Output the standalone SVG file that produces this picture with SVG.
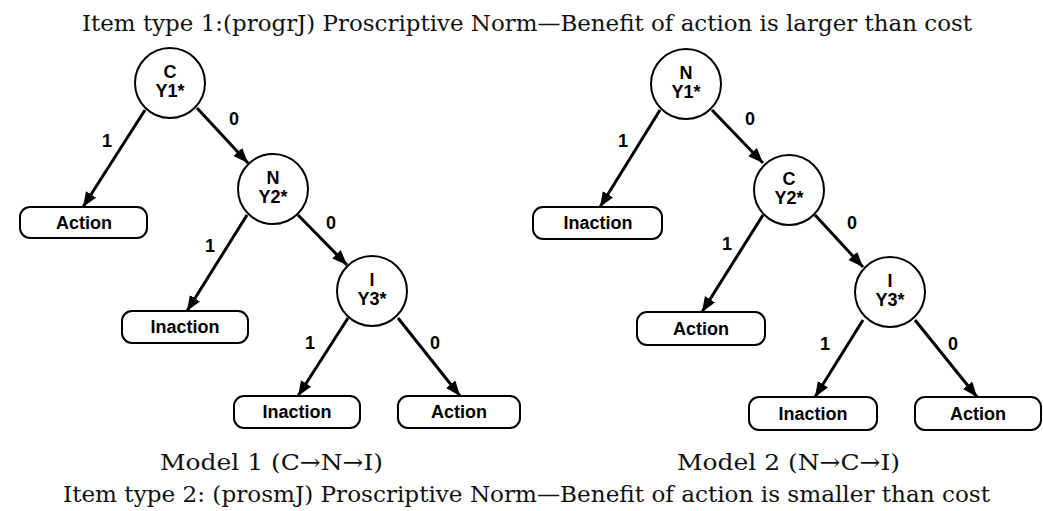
<svg xmlns="http://www.w3.org/2000/svg" width="1043" height="511" viewBox="0 0 1043 511">
<style>
.title{font-family:"DejaVu Serif","Liberation Serif",serif;font-size:23px;fill:#111}
.cap{font-family:"DejaVu Serif","Liberation Serif",serif;font-size:23px;fill:#111}
.node circle{fill:#fff;stroke:#000;stroke-width:2}
.node rect{fill:#fff;stroke:#000;stroke-width:2}
.node text{font-family:"Liberation Sans",Arial,sans-serif;font-weight:bold;font-size:18px;text-anchor:middle;fill:#000}
.edges line{stroke:#000;stroke-width:3;marker-end:url(#ah)}
.lbl{font-family:"Liberation Sans",Arial,sans-serif;font-weight:bold;font-size:18px;text-anchor:middle;fill:#000}
</style>
<defs>
<marker id="ah" markerUnits="userSpaceOnUse" markerWidth="16" markerHeight="14" refX="15" refY="6" orient="auto">
<path d="M0,0 L15,6 L0,12 Z" fill="#000"/>
</marker>
</defs>
<rect width="1043" height="511" fill="#fff"/>
<text class="title" x="82" y="31" textLength="890" lengthAdjust="spacingAndGlyphs">Item type 1:(progrJ) Proscriptive Norm—Benefit of action is larger than cost</text>

<g class="edges">
<line x1="145" y1="110" x2="83" y2="207"/>
<line x1="197" y1="108" x2="248" y2="163"/>
<line x1="247" y1="215" x2="187" y2="311"/>
<line x1="298" y1="215" x2="347" y2="265"/>
<line x1="348" y1="318" x2="298" y2="396"/>
<line x1="398" y1="318" x2="460" y2="396"/>
<line x1="660" y1="110" x2="600" y2="207"/>
<line x1="712" y1="110" x2="763" y2="163"/>
<line x1="763" y1="215" x2="702" y2="312"/>
<line x1="815" y1="215" x2="863" y2="267"/>
<line x1="863" y1="320" x2="815" y2="397"/>
<line x1="915" y1="320" x2="977" y2="397"/>
</g>
<g id="edge-labels">
<text class="lbl" x="107" y="147">1</text>
<text class="lbl" x="234" y="125">0</text>
<text class="lbl" x="210" y="252">1</text>
<text class="lbl" x="331" y="229">0</text>
<text class="lbl" x="310" y="349">1</text>
<text class="lbl" x="435" y="349">0</text>
<text class="lbl" x="623" y="147">1</text>
<text class="lbl" x="750" y="125">0</text>
<text class="lbl" x="727" y="250">1</text>
<text class="lbl" x="852" y="229">0</text>
<text class="lbl" x="825" y="350">1</text>
<text class="lbl" x="953" y="350">0</text>
</g>

<g id="m1-c" class="node"><circle cx="170" cy="83" r="35"/><text x="170" y="78">C</text><text x="170" y="97">Y1*</text></g>
<g id="m1-n" class="node"><circle cx="273" cy="189" r="35"/><text x="273" y="184">N</text><text x="273" y="203">Y2*</text></g>
<g id="m1-i" class="node"><circle cx="372" cy="291" r="35"/><text x="372" y="286">I</text><text x="372" y="305">Y3*</text></g>
<g id="m1-action1" class="node"><rect x="20" y="207" width="127" height="31" rx="10"/><text x="84" y="229">Action</text></g>
<g id="m1-inaction1" class="node"><rect x="122" y="311" width="126" height="32" rx="10"/><text x="185" y="333">Inaction</text></g>
<g id="m1-inaction2" class="node"><rect x="234" y="396" width="126" height="32" rx="10"/><text x="297" y="418">Inaction</text></g>
<g id="m1-action2" class="node"><rect x="398" y="396" width="122" height="32" rx="10"/><text x="459" y="418">Action</text></g>

<g id="m2-n" class="node"><circle cx="686" cy="84" r="35"/><text x="686" y="79">N</text><text x="686" y="98">Y1*</text></g>
<g id="m2-c" class="node"><circle cx="789" cy="190" r="35"/><text x="789" y="185">C</text><text x="789" y="204">Y2*</text></g>
<g id="m2-i" class="node"><circle cx="890" cy="292" r="35"/><text x="890" y="287">I</text><text x="890" y="306">Y3*</text></g>
<g id="m2-inaction1" class="node"><rect x="533" y="207" width="129" height="32" rx="10"/><text x="598" y="229">Inaction</text></g>
<g id="m2-action1" class="node"><rect x="637" y="312" width="128" height="33" rx="10"/><text x="701" y="335">Action</text></g>
<g id="m2-inaction2" class="node"><rect x="749" y="397" width="128" height="33" rx="10"/><text x="813" y="420">Inaction</text></g>
<g id="m2-action2" class="node"><rect x="915" y="397" width="126" height="33" rx="10"/><text x="978" y="420">Action</text></g>

<text class="cap" x="160" y="470" textLength="223" lengthAdjust="spacingAndGlyphs">Model 1 (C→N→I)</text>
<text class="cap" x="677" y="470" textLength="223" lengthAdjust="spacingAndGlyphs">Model 2 (N→C→I)</text>
<text class="title" x="63" y="502" textLength="927" lengthAdjust="spacingAndGlyphs">Item type 2: (prosmJ) Proscriptive Norm—Benefit of action is smaller than cost</text>
</svg>
